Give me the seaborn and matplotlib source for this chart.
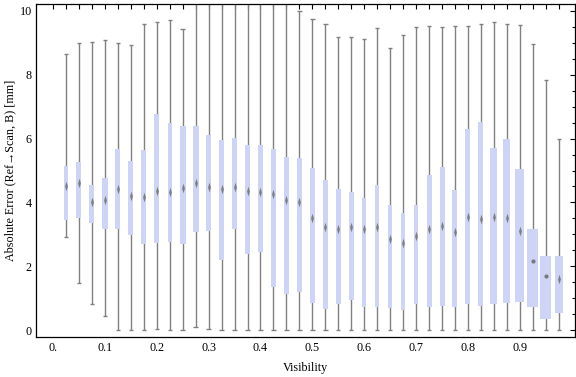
"""Box-whisker chart of absolute error against visibility."""

import matplotlib

matplotlib.use("Agg")
import matplotlib.pyplot as plt
import numpy as np
import pandas as pd
import seaborn as sns
from matplotlib.path import Path

VISIBILITY = [
    0.025, 0.050, 0.075, 0.100, 0.125, 0.150, 0.175, 0.200, 0.225, 0.250,
    0.275, 0.300, 0.325, 0.350, 0.375, 0.400, 0.425, 0.450, 0.475, 0.500,
    0.525, 0.550, 0.575, 0.600, 0.625, 0.650, 0.675, 0.700, 0.725, 0.750,
    0.775, 0.800, 0.825, 0.850, 0.875, 0.900, 0.925, 0.950, 0.975,
]
WHISKER_LOW = [
    2.90, 1.46, 0.80, 0.44, 0.00, 0.00, 0.00, 0.03, 0.00, 0.00,
    0.08, 0.02, 0.00, 0.00, 0.00, 0.00, 0.00, 0.00, 0.00, 0.00,
    0.00, 0.00, 0.00, 0.00, 0.00, 0.00, 0.00, 0.00, 0.00, 0.00,
    0.00, 0.00, 0.00, 0.00, 0.00, 0.00, 0.00, 0.00, 0.00,
]
Q1 = [
    3.45, 3.52, 3.36, 3.18, 3.17, 2.99, 2.71, 2.74, 2.77, 2.71,
    3.08, 3.11, 2.20, 3.17, 2.39, 2.43, 1.36, 1.13, 1.20, 0.86,
    0.67, 0.83, 0.95, 0.71, 0.73, 0.70, 0.64, 0.80, 0.71, 0.76,
    0.72, 0.80, 0.74, 0.80, 0.86, 0.89, 0.71, 0.36, 0.54,
]
MEDIAN = [
    4.51, 4.61, 4.02, 4.08, 4.41, 4.20, 4.16, 4.37, 4.32, 4.46,
    4.60, 4.49, 4.41, 4.49, 4.37, 4.33, 4.25, 4.08, 4.02, 3.50,
    3.22, 3.18, 3.22, 3.18, 3.22, 2.84, 2.74, 2.95, 3.16, 3.26,
    3.08, 3.53, 3.47, 3.55, 3.51, 3.11, 2.17, 1.68, 1.61,
]
Q3 = [
    5.15, 5.27, 4.54, 4.76, 5.67, 5.30, 5.64, 6.77, 6.48, 6.40,
    6.40, 6.10, 5.96, 6.02, 5.80, 5.80, 5.67, 5.42, 5.39, 5.08,
    4.69, 4.42, 4.33, 4.14, 4.55, 3.92, 3.67, 3.91, 4.86, 5.11,
    4.39, 6.30, 6.52, 5.71, 5.99, 5.04, 3.17, 2.32, 2.32,
]
WHISKER_HIGH = [
    8.65, 8.99, 9.04, 9.08, 9.01, 8.92, 9.58, 9.64, 9.71, 9.43,
    10.40, 10.40, 10.40, 10.40, 10.40, 10.40, 10.40, 10.40, 10.01, 9.74,
    9.59, 9.17, 9.17, 9.11, 9.46, 8.83, 9.25, 9.49, 9.53, 9.49,
    9.53, 9.53, 9.58, 9.64, 9.58, 9.55, 8.96, 7.83, 5.98,
]

# box widths as drawn, in pixels
BOX_WIDTH_PX = [
    3.3, 5, 5, 5.3, 5.3, 5, 5, 5, 4, 6, 6, 5, 5.7, 5, 5, 5, 5, 5, 5, 5,
    4.7, 5, 4.7, 4, 4.3, 4, 4, 4, 5, 5, 5, 5, 5, 7, 7.3, 8.7, 11, 11, 8,
]

X_TICKS = [0.0, 0.1, 0.2, 0.3, 0.4, 0.5, 0.6, 0.7, 0.8, 0.9]
X_TICK_LABELS = ["0.", "0.1", "0.2", "0.3", "0.4", "0.5", "0.6", "0.7", "0.8", "0.9"]
Y_TICKS = [0, 2, 4, 6, 8, 10]

BOX_COLOR = "#cdd4f6"
WHISKER_COLOR = "#808080"
MEDIAN_COLOR = "#6a6a6a"
PX_PER_UNIT = 518.7


def main() -> None:
    sns.set_theme(style="white")
    plt.rcParams["font.family"] = ["Liberation Serif", "DejaVu Serif"]
    plt.rcParams["font.size"] = 8.7

    df = pd.DataFrame(
        {
            "visibility": VISIBILITY,
            "low": WHISKER_LOW,
            "q1": Q1,
            "median": MEDIAN,
            "q3": Q3,
            "high": WHISKER_HIGH,
        }
    )
    df["width"] = np.array(BOX_WIDTH_PX) / PX_PER_UNIT
    df["shape"] = np.where(np.array(BOX_WIDTH_PX) >= 10, "dot", "diamond")

    fig = plt.figure(figsize=(5.76, 3.77), dpi=100)
    ax = fig.add_axes([36 / 576, 1 - 336.7 / 377, 539 / 576, 332.4 / 377])

    cap = 2.2 / PX_PER_UNIT
    ax.vlines(df["visibility"], df["low"], df["high"], color=WHISKER_COLOR,
              linewidth=1.0, zorder=1)
    for end in ("low", "high"):
        ax.hlines(df[end], df["visibility"] - cap, df["visibility"] + cap,
                  color=WHISKER_COLOR, linewidth=1.0, zorder=1)

    ax.bar(df["visibility"], df["q3"] - df["q1"], bottom=df["q1"],
           width=df["width"], color=BOX_COLOR, linewidth=0, zorder=2)

    diamond = Path([(0, 1), (0.3, 0), (0, -1), (-0.3, 0), (0, 1)],
                   [Path.MOVETO, Path.LINETO, Path.LINETO, Path.LINETO, Path.CLOSEPOLY])
    sns.scatterplot(data=df[df["shape"] == "diamond"], x="visibility", y="median",
                    marker=diamond, s=48, color=MEDIAN_COLOR, alpha=0.8,
                    linewidth=0, ax=ax, zorder=3, legend=False)
    sns.scatterplot(data=df[df["shape"] == "dot"], x="visibility", y="median",
                    marker="o", s=9, color=MEDIAN_COLOR, alpha=0.85,
                    linewidth=0, ax=ax, zorder=3, legend=False)

    ax.set_xlim(-0.0328, 1.0064)
    ax.set_ylim(-0.21, 10.21)

    minor_x = [0.0] + VISIBILITY
    ax.set_xticks(minor_x, minor=True)
    ax.set_xticks(X_TICKS, labels=X_TICK_LABELS)
    ax.set_yticks(Y_TICKS, labels=[str(v) for v in Y_TICKS])
    ax.set_yticks(np.arange(0, 10.01, 0.5), minor=True)

    ax.tick_params(axis="both", which="both", direction="in", top=True, right=True,
                   color="black", width=0.8, labelsize=8.7, labelcolor="black")
    ax.tick_params(axis="x", which="both", length=3.4, pad=4)
    ax.tick_params(axis="y", which="major", length=3.4, pad=3)
    ax.tick_params(axis="y", which="minor", length=2.0)

    for spine in ax.spines.values():
        spine.set_color("black")
        spine.set_linewidth(0.9)

    ax.set_xlabel("Visibility", fontsize=8.7, color="black")
    ax.set_ylabel("Absolute Error (Ref\u2192Scan, B) [mm]", fontsize=8.7, color="black")
    ax.xaxis.set_label_coords(0.5, -0.075)
    ax.yaxis.set_label_coords(-0.037, 0.5)

    fig.savefig("out.png", dpi=100, facecolor="white")
    plt.close(fig)


if __name__ == "__main__":
    main()
